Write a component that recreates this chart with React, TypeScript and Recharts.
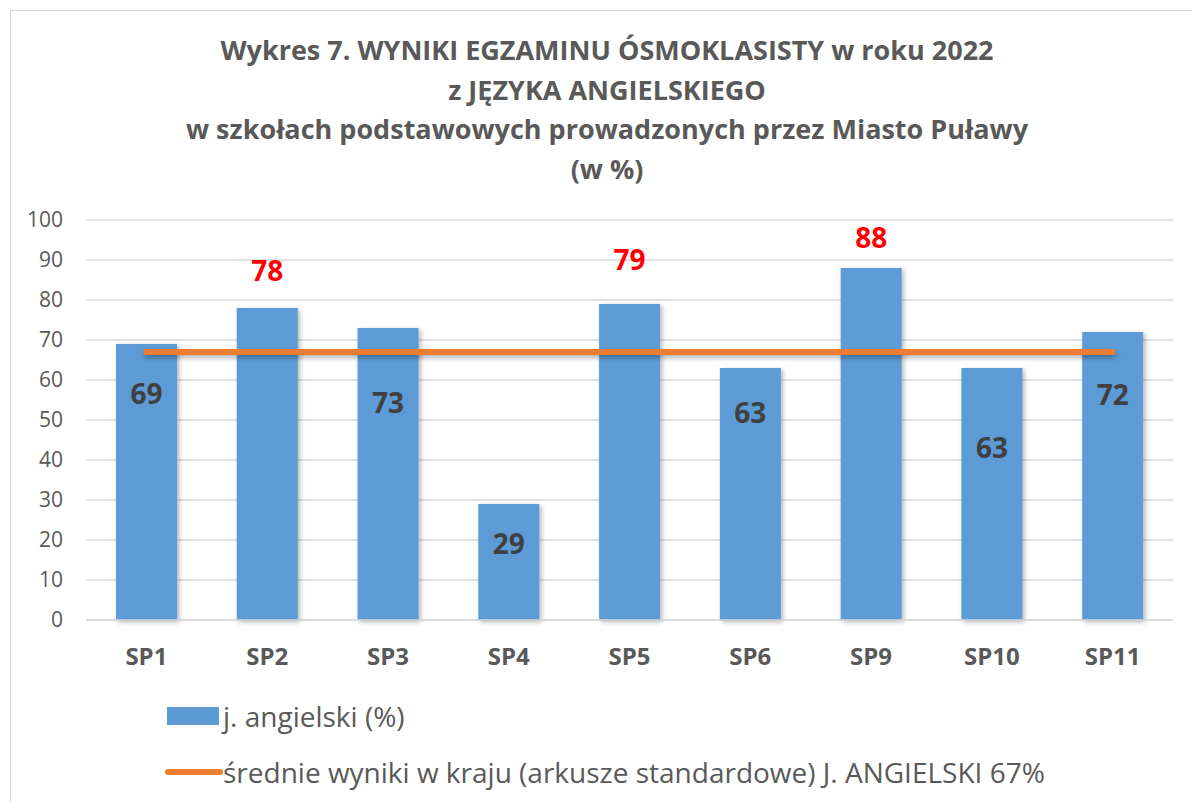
import React from 'react';
import { ComposedChart, Bar, Line, XAxis, YAxis, CartesianGrid, Legend } from 'recharts';

// ---- data ----
const categories = ['SP1', 'SP2', 'SP3', 'SP4', 'SP5', 'SP6', 'SP9', 'SP10', 'SP11'];
const englishScores = [69, 78, 73, 29, 79, 63, 88, 63, 72];
const nationalAverage = [67, 67, 67, 67, 67, 67, 67, 67, 67];
const yTicks = [0, 10, 20, 30, 40, 50, 60, 70, 80, 90, 100];
const titleLines = [
  'Wykres 7. WYNIKI EGZAMINU ÓSMOKLASISTY w roku 2022',
  'z JĘZYKA ANGIELSKIEGO',
  'w szkołach podstawowych prowadzonych przez Miasto Puławy',
  '(w %)',
];
const barName = 'j. angielski (%)';
const lineName = 'średnie wyniki w kraju (arkusze standardowe) J. ANGIELSKI 67%';
const highlightThreshold = 75;

const data = categories.map((c, i) => ({ name: c, value: englishScores[i], avg: nationalAverage[i] }));

// ---- styling ----
const FONT = '"Open Sans", "Noto Sans", sans-serif';
const BLUE = '#5B9BD5';
const ORANGE = '#ED7D31';
const GRID = '#D9D9D9';
const TEXT = '#595959';
// per-label vertical offsets from bar top (label placement in original)
const LABEL_DY = [49, -38, 74, 39, -45, 44, -31, 79, 62];

const BarShape = (props: any) => {
  const { x, y, width, height } = props;
  return <rect x={x} y={y} width={width} height={height} fill={BLUE} filter="url(#softShadow)" />;
};

const renderLabel = (props: any) => {
  const { x, y, width, value, index } = props;
  const hi = value >= highlightThreshold;
  return (
    <text
      x={x + width / 2}
      y={y + LABEL_DY[index]}
      textAnchor="middle"
      dominantBaseline="central"
      fontFamily={FONT}
      fontWeight={700}
      fontSize={28}
      fill={hi ? '#FF0000' : '#404040'}
    >
      {value}
    </text>
  );
};

const renderLegend = () => (
  <div style={{ fontFamily: FONT, fontSize: 28, color: TEXT, lineHeight: 1, whiteSpace: 'nowrap' }}>
    <div style={{ display: 'flex', alignItems: 'center', height: 32 }}>
      <svg width={60} height={32} style={{ display: 'block', flex: 'none' }}>
        <rect x={4} y={7} width={52} height={18} fill={BLUE} />
      </svg>
      <span>{barName}</span>
    </div>
    <div style={{ display: 'flex', alignItems: 'center', height: 32, marginTop: 24 }}>
      <svg width={60} height={32} style={{ display: 'block', flex: 'none' }}>
        <line x1={5} y1={16} x2={57} y2={16} stroke={ORANGE} strokeWidth={6} strokeLinecap="round" />
      </svg>
      <span>{lineName}</span>
    </div>
  </div>
);

export default function App() {
  return (
    <div style={{ position: 'absolute', left: 0, top: 0, width: 1192, height: 802, overflow: 'hidden', background: '#fff' }}>
      <div
        style={{
          position: 'absolute',
          left: 10,
          top: 10,
          width: 1220,
          height: 820,
          border: `1.5px solid ${GRID}`,
          boxSizing: 'border-box',
        }}
      />
      <div
        style={{
          position: 'absolute',
          left: 10,
          top: 30,
          width: 1194,
          textAlign: 'center',
          fontFamily: FONT,
          fontWeight: 700,
          fontSize: 27,
          lineHeight: '39.5px',
          color: TEXT,
        }}
      >
        {titleLines.map((t) => (
          <div key={t}>{t}</div>
        ))}
      </div>
      <div style={{ position: 'absolute', left: 0, top: 0 }}>
        <ComposedChart width={1192} height={802} data={data} margin={{ top: 220, right: 19, bottom: 142, left: 0 }}>
          <defs>
            <filter id="softShadow" x="-20%" y="-20%" width="150%" height="150%">
              <feDropShadow dx="2" dy="2" stdDeviation="2.5" floodColor="#000" floodOpacity="0.3" />
            </filter>
            <filter id="lineShadow" filterUnits="userSpaceOnUse" x="0" y="0" width="1192" height="802">
              <feDropShadow dx="1" dy="3" stdDeviation="2.5" floodColor="#000" floodOpacity="0.3" />
            </filter>
          </defs>
          <CartesianGrid vertical={false} stroke={GRID} strokeWidth={1.5} />
          <XAxis
            dataKey="name"
            height={40}
            axisLine={{ stroke: GRID, strokeWidth: 1.5 }}
            tickLine={false}
            tickSize={0}
            tickMargin={28}
            tick={{ fontFamily: FONT, fontWeight: 700, fontSize: 24, fill: TEXT }}
            interval={0}
          />
          <YAxis
            width={86}
            domain={[0, 100]}
            ticks={yTicks}
            axisLine={false}
            tickLine={false}
            tickSize={0}
            tickMargin={23}
            tick={{ fontFamily: FONT, fontSize: 21, fill: TEXT }}
          />
          <Bar dataKey="value" name={barName} barSize={61} fill={BLUE} shape={BarShape} label={renderLabel} isAnimationActive={false} />
          <Line
            dataKey="avg"
            name={lineName}
            stroke={ORANGE}
            strokeWidth={6}
            strokeLinecap="round"
            dot={false}
            activeDot={false}
            filter="url(#lineShadow)"
            isAnimationActive={false}
          />
          <Legend
            layout="horizontal"
            verticalAlign="middle"
            align="center"
            content={renderLegend}
            wrapperStyle={{ position: 'absolute', left: 163, top: 700, width: 1000 }}
          />
        </ComposedChart>
      </div>
    </div>
  );
}
